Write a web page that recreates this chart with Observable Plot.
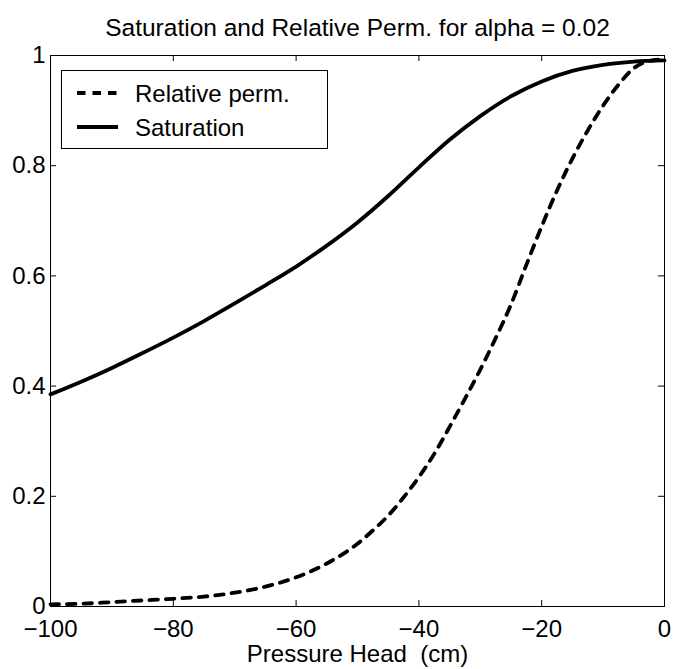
<!DOCTYPE html>
<html>
<head>
<meta charset="utf-8">
<script src="https://cdn.jsdelivr.net/npm/d3@7"></script>
<script src="https://cdn.jsdelivr.net/npm/@observablehq/plot@0.6"></script>
<style>
  html, body { margin: 0; padding: 0; background: #ffffff; }
  #chart svg { display: block; }
</style>
</head>
<body>
<div id="chart"></div>
<script>
// ---- Data ----
const title = "Saturation and Relative Perm. for alpha = 0.02";
const xLabel = "Pressure Head  (cm)";
const seriesNames = ["Relative perm.", "Saturation"];

const satHead = [-100, -95, -90, -85, -80, -75, -70, -65, -60, -55, -50, -45, -40, -35, -30, -25, -20, -15, -10, -5, 0];
const saturation = [0.385, 0.408, 0.433, 0.460, 0.488, 0.518, 0.550, 0.583, 0.617, 0.655, 0.697, 0.745, 0.797, 0.847, 0.890, 0.926, 0.953, 0.972, 0.983, 0.989, 0.991];

const permHead = [-100, -95, -90, -85, -80, -75, -70, -65, -60, -55, -50, -47.5, -45, -42.5, -40, -37.5, -35, -32.5, -30, -27.5, -25, -22.5, -20, -17.5, -15, -12.5, -10, -7.5, -5, -2.5, 0];
const relPerm = [0.004, 0.005, 0.008, 0.011, 0.014, 0.018, 0.025, 0.036, 0.053, 0.078, 0.114, 0.138, 0.165, 0.198, 0.235, 0.277, 0.326, 0.377, 0.430, 0.487, 0.548, 0.620, 0.690, 0.755, 0.813, 0.864, 0.909, 0.947, 0.977, 0.990, 0.993];

const xTicks = [-100, -80, -60, -40, -20, 0];
const yTicks = [0, 0.2, 0.4, 0.6, 0.8, 1];

// ---- Build tables ----
const satData = satHead.map((h, i) => ({h, v: saturation[i]}));
const permData = permHead.map((h, i) => ({h, v: relPerm[i]}));

const W = 673, H = 669;
const mL = 50, mR = 9, mT = 55, mB = 63;
const plotW = W - mL - mR, plotH = H - mT - mB;
const FONT = "'Liberation Sans', Arial, Helvetica, sans-serif";
const tick = 6;
const fmt = d => (d < 0 ? "\u2212" + Math.abs(d) : String(d));

const plot = Plot.plot({
  width: W,
  height: H,
  marginLeft: mL,
  marginRight: mR,
  marginTop: mT,
  marginBottom: mB,
  style: {fontFamily: FONT, fontSize: "24px", color: "black", background: "white", overflow: "visible"},
  x: {domain: [-100, 0], ticks: xTicks, tickFormat: fmt, tickSize: 0, tickPadding: 13, label: null},
  y: {domain: [0, 1], ticks: yTicks, tickFormat: fmt, tickSize: 0, tickPadding: 5, label: null},
  marks: [
    Plot.line(satData, {x: "h", y: "v", stroke: "black", strokeWidth: 3.8, curve: "monotone-x"}),
    Plot.line(permData, {x: "h", y: "v", stroke: "black", strokeWidth: 3.8, strokeDasharray: "8.5,8", curve: "monotone-x"}),
    // inward ticks on all four sides
    Plot.tickX(xTicks, {x: d => d, insetTop: plotH - tick, stroke: "black", strokeWidth: 1}),
    Plot.tickX(xTicks, {x: d => d, insetBottom: plotH - tick, stroke: "black", strokeWidth: 1}),
    Plot.tickY(yTicks, {y: d => d, insetRight: plotW - tick, stroke: "black", strokeWidth: 1}),
    Plot.tickY(yTicks, {y: d => d, insetLeft: plotW - tick, stroke: "black", strokeWidth: 1}),
    Plot.frame({stroke: "black", strokeWidth: 1}),
    Plot.text([title], {frameAnchor: "top", lineAnchor: "bottom", dy: -20, text: d => d, fontSize: 24.5, fill: "black"}),
    Plot.text([xLabel], {frameAnchor: "bottom", lineAnchor: "bottom", dy: 55, text: d => d, fontSize: 24, fill: "black"})
  ]
});

document.getElementById("chart").appendChild(plot);

// ---- Legend (positioned relative to the frame via the scales) ----
const xs = plot.scale("x"), ys = plot.scale("y");
const fl = xs.apply(xs.domain[0]);
const ft = ys.apply(ys.domain[1]);
const svg = d3.select(plot);
const g = svg.append("g")
  .attr("font-family", FONT)
  .attr("font-size", 24)
  .attr("text-anchor", "start");
g.append("rect")
  .attr("x", fl + 11.5).attr("y", ft + 15.5)
  .attr("width", 266).attr("height", 78)
  .attr("fill", "white").attr("stroke", "black").attr("stroke-width", 1);
const rows = [
  {name: seriesNames[0], dash: "8.5,7", dy: 38},
  {name: seriesNames[1], dash: null, dy: 72}
];
rows.forEach(r => {
  g.append("line")
    .attr("x1", fl + 27).attr("x2", fl + 68)
    .attr("y1", ft + r.dy).attr("y2", ft + r.dy)
    .attr("stroke", "black").attr("stroke-width", 3.8)
    .attr("stroke-dasharray", r.dash);
  g.append("text")
    .attr("x", fl + 85).attr("y", ft + r.dy + 8.5)
    .attr("fill", "black")
    .attr("text-anchor", "start")
    .text(r.name);
});
</script>
</body>
</html>
